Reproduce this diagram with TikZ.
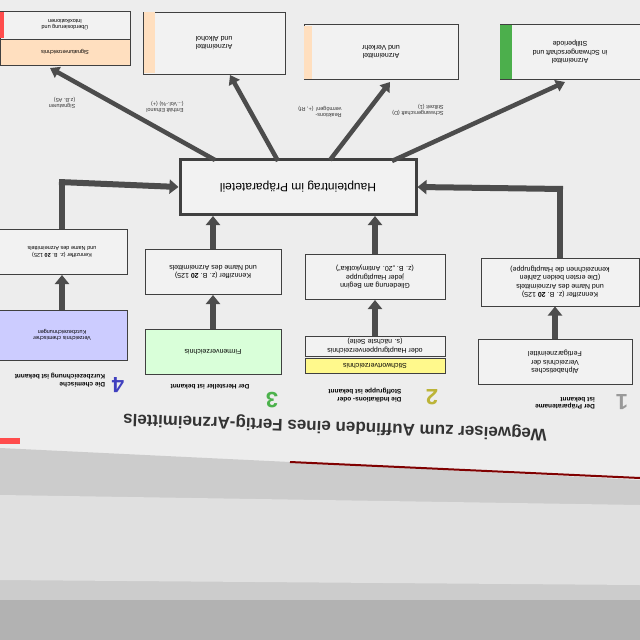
\documentclass[tikz,border=0pt]{standalone}
\usepackage{fontspec}
\setmainfont{Liberation Sans}
\usetikzlibrary{arrows.meta}
\begin{document}
\begin{tikzpicture}[x=1pt,y=-1pt,
  box/.style={draw=black!75,line width=1pt,fill=white!90!gray,rotate=180,align=center,font=\fontsize{7}{8.5}\selectfont,inner sep=2pt},
  head/.style={rotate=180,align=left,font=\bfseries\fontsize{6.5}{7.5}\selectfont},
  lbl/.style={rotate=180,align=left,font=\fontsize{5.5}{6.5}\selectfont,text=black!80},
  big/.style={line width=6pt,draw=black!70,-{Triangle[length=9pt,width=14pt]}},
  fan/.style={line width=4.5pt,draw=black!70,-{Triangle[length=9pt,width=12pt]}},
  num/.style={rotate=180,font=\bfseries\fontsize{22}{22}\selectfont}]
\useasboundingbox (0,0) rectangle (640,640);
\fill[black!7] (0,0) rectangle (640,640);
\fill[black!20] (0,448) -- (290,462) -- (640,480) -- (640,640) -- (0,640) -- cycle;
\fill[black!12] (0,495) -- (640,505) -- (640,585) -- (0,580) -- cycle;
\draw[red!50!black,line width=2pt] (290,462) -- (640,478);
\fill[red!70] (0,438) rectangle (20,444);
\fill[black!30] (0,600) rectangle (640,640);
% main
\node[box,line width=3pt,minimum width=236pt,minimum height=55pt,font=\fontsize{12}{14}\selectfont] (main) at (298,187) {Haupteintrag im Präparateteil};
% top boxes
\node[box,minimum width=140pt,minimum height=55pt] (ta) at (570,52) {Arzneimittel\\in Schwangerschaft und\\Stillperiode};
\fill[green!55!black!70] (500,25) rectangle (512,79);
\node[box,minimum width=154pt,minimum height=55pt] (tb) at (381,52) {Arzneimittel\\und Verkehr};
\fill[orange!25] (304,26) rectangle (312,79);
\node[box,minimum width=142pt,minimum height=62pt] (tc) at (214,43) {Arzneimittel\\und Alkohol};
\fill[orange!25] (144,12) rectangle (155,73);
\node[box,minimum width=130pt,minimum height=28pt,font=\fontsize{5.5}{6.5}\selectfont] (td) at (65,25) {Überdosierung und\\Intoxikationen};
\node[box,fill=orange!25,minimum width=130pt,minimum height=26pt,font=\fontsize{5.5}{6.5}\selectfont] (td2) at (65,52) {Signaturverzeichnis};
\fill[red!70] (0,12) rectangle (4,38);
% fan arrows
\coordinate (m1) at (392,161); \coordinate (m2) at (330,160); \coordinate (m3) at (278,161); \coordinate (m4) at (215,160);
\draw[fan] (m1) -- (565,82);
\draw[fan] (m2) -- (390,82);
\draw[fan] (m3) -- (230,75);
\draw[fan] (m4) -- (50,68);
\node[lbl] (l1) at (418,110) {Schwangerschaft (D)\\Stillzeit (1)};
\node[lbl] (l2) at (320,112) {Reaktions-\\vermögen! (+, Rf)};
\node[lbl] (l3) at (165,107) {Enthält Ethanol\\(...Vol.-\%) (+)};
\node[lbl] (l4) at (62,103) {Signaturen\\(z.B. A5)};
% column 1
\node[box,minimum width=158pt,minimum height=48pt] (k1) at (560,282) {Kennziffer (z. B. \textbf{20} 125)\\und Name des Arzneimittels\\(Die ersten beiden Zahlen\\kennzeichnen die Hauptgruppe)};
\node[box,minimum width=154pt,minimum height=45pt] (a1) at (555,362) {Alphabetisches\\Verzeichnis der\\Fertigarzneimittel};
\draw[big] (a1.south) -- (k1.north -| a1.south);
\draw[big,-] (k1.south) -- (560,186);
\draw[big] (563,189) -- (main.west);
\node[num,text=black!40] (n1) at (622,402) {1};
\node[head] (h1) at (565,403) {Der Präparatename\\ist bekannt};
% column 2
\node[box,minimum width=140pt,minimum height=45pt] (k2) at (375,277) {Gliederung am Beginn\\jeder Hauptgruppe\\(z. B. „20. Antimykotika“)};
\node[box,minimum width=140pt,minimum height=20pt] (s2) at (375,346) {oder Hauptgruppenverzeichnis\\(s. nächste Seite)};
\node[box,fill=yellow!45,minimum width=140pt,minimum height=15pt] (y2) at (375,366) {Stichwortverzeichnis};
\draw[big] (s2.south) -- (k2.north);
\draw[big] (k2.south) -- (main.north -| k2.south);
\node[num,text=yellow!70!black] (n2) at (432,397) {2};
\node[head] (h2) at (365,395) {Die Indikations- oder\\Stoffgruppe ist bekannt};
% column 3
\node[box,minimum width=136pt,minimum height=45pt] (k3) at (213,272) {Kennziffer (z. B. \textbf{20} 125)\\und Name des Arzneimittels};
\node[box,fill=green!15,minimum width=136pt,minimum height=45pt] (f3) at (213,352) {Firmenverzeichnis};
\draw[big] (f3.south) -- (k3.north);
\draw[big] (k3.south) -- (main.north -| k3.south);
\node[num,text=green!40!gray] (n3) at (272,400) {3};
\node[head] (h3) at (210,387) {Der Hersteller ist bekannt};
% column 4
\node[box,minimum width=130pt,minimum height=45pt,font=\fontsize{5.5}{6.5}\selectfont] (k4) at (62,252) {Kennziffer (z. B. \textbf{20} 125)\\und Name des Arzneimittels};
\node[box,fill=blue!20,minimum width=130pt,minimum height=50pt,font=\fontsize{5.5}{6.5}\selectfont] (b4) at (62,335) {Verzeichnis chemischer\\Kurzbezeichnungen};
\draw[big] (b4.south) -- (k4.north);
\draw[big,-] (k4.south) -- (62,179);
\draw[big] (59,182) -- (main.east);
\node[num,text=blue!50!gray] (n4) at (118,385) {4};
\node[head] (h4) at (60,380) {Die chemische\\Kurzbezeichnung ist bekannt};
% title
\node[rotate=178,font=\bfseries\fontsize{17}{19}\selectfont,text=black!80] (title) at (335,426) {Wegweiser zum Auffinden eines Fertig-Arzneimittels};
\end{tikzpicture}
\end{document}
